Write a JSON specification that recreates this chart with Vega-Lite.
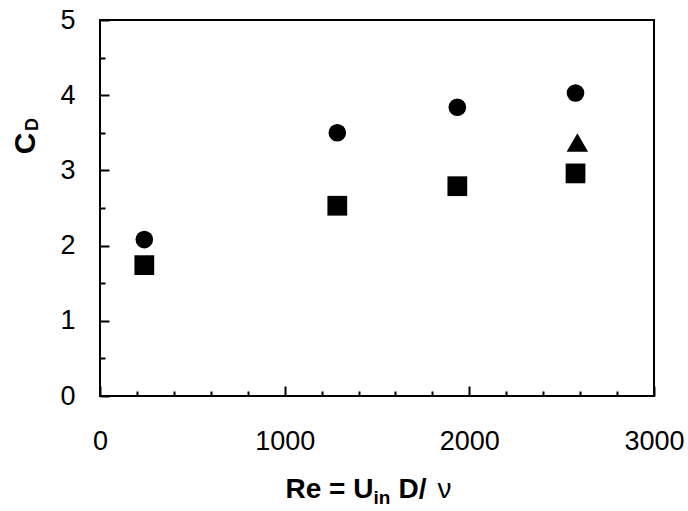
{
  "$schema": "https://vega.github.io/schema/vega-lite/v6.json",
  "width": 554,
  "height": 376,
  "autosize": "none",
  "padding": {"left": 100, "top": 20, "right": 34, "bottom": 115},
  "background": "white",
  "config": {"view": {"stroke": "black", "strokeWidth": 2}, "font": "Liberation Sans"},
  "data": {"values": [
    {"series": "circle", "Re": 240, "CD": 2.08},
    {"series": "circle", "Re": 1285, "CD": 3.5},
    {"series": "circle", "Re": 1935, "CD": 3.84},
    {"series": "circle", "Re": 2575, "CD": 4.03},
    {"series": "square", "Re": 240, "CD": 1.74},
    {"series": "square", "Re": 1285, "CD": 2.53},
    {"series": "square", "Re": 1935, "CD": 2.79},
    {"series": "square", "Re": 2575, "CD": 2.96},
    {"series": "triangle", "Re": 2585, "CD": 3.37}
  ]},
  "layer": [
    {
      "transform": [{"filter": "datum.series === 'circle'"}],
      "mark": {"type": "point", "shape": "circle", "filled": true, "color": "black", "opacity": 1, "size": 310},
      "encoding": {
        "x": {"field": "Re", "type": "quantitative", "scale": {"domain": [0, 3000], "nice": false, "zero": false},
          "axis": {"orient": "bottom", "values": [0, 1000, 2000, 3000], "offset": -10,
            "format": "d", "domain": false, "grid": false, "tickColor": "black", "tickWidth": 2, "tickSize": 10,
            "labelFontSize": 27, "labelColor": "black", "labelPadding": 32, "labelFlush": false, "labelOverlap": false,
            "title": "Re = U", "titleFontSize": 28, "titleFontWeight": "bold", "titleColor": "black",
            "titleX": 185, "titleY": 111, "titleAlign": "left", "titleBaseline": "alphabetic", "titleAngle": 0}},
        "y": {"field": "CD", "type": "quantitative", "scale": {"domain": [0, 5], "nice": false, "zero": false},
          "axis": {"orient": "left", "values": [0, 1, 2, 3, 4, 5], "offset": -9,
            "format": "d", "domain": false, "grid": false, "tickColor": "black", "tickWidth": 2, "tickSize": 9,
            "labelFontSize": 27, "labelColor": "black", "labelPadding": 25, "labelFlush": false, "labelOverlap": false,
            "title": "C", "titleFontSize": 30, "titleFontWeight": "bold", "titleColor": "black",
            "titleX": -84, "titleY": 123, "titleAlign": "center", "titleBaseline": "middle", "titleAngle": -90}}
      }
    },
    {
      "transform": [{"filter": "datum.series === 'square'"}],
      "mark": {"type": "point", "shape": "square", "filled": true, "color": "black", "opacity": 1, "size": 390},
      "encoding": {
        "x": {"field": "Re", "type": "quantitative", "scale": {"domain": [0, 3000], "nice": false, "zero": false},
          "axis": {"orient": "bottom", "values": [200, 400, 600, 800, 1200, 1400, 1600, 1800, 2200, 2400, 2600, 2800], "offset": -5,
            "domain": false, "grid": false, "tickColor": "black", "tickWidth": 2, "tickSize": 5, "labels": false,
            "title": "in", "titleFontSize": 19, "titleFontWeight": "bold", "titleColor": "black",
            "titleX": 273, "titleY": 112, "titleAlign": "left", "titleBaseline": "alphabetic", "titleAngle": 0}},
        "y": {"field": "CD", "type": "quantitative", "scale": {"domain": [0, 5], "nice": false, "zero": false},
          "axis": {"orient": "left", "values": [0.5, 1.5, 2.5, 3.5, 4.5], "offset": -5,
            "domain": false, "grid": false, "tickColor": "black", "tickWidth": 2, "tickSize": 5, "labels": false,
            "title": "D", "titleFontSize": 18, "titleFontWeight": "bold", "titleColor": "black",
            "titleX": -73, "titleY": 104, "titleAlign": "center", "titleBaseline": "middle", "titleAngle": -90}}
      }
    },
    {
      "transform": [{"filter": "datum.series === 'triangle'"}],
      "mark": {"type": "point", "shape": "triangle-up", "filled": true, "color": "black", "opacity": 1, "size": 460},
      "encoding": {
        "x": {"field": "Re", "type": "quantitative", "scale": {"domain": [0, 3000], "nice": false, "zero": false},
          "axis": {"orient": "bottom", "domain": false, "grid": false, "ticks": false, "labels": false,
            "title": "D/", "titleFontSize": 28, "titleFontWeight": "bold", "titleColor": "black",
            "titleX": 298, "titleY": 101, "titleAlign": "left", "titleBaseline": "alphabetic", "titleAngle": 0}},
        "y": {"field": "CD", "type": "quantitative", "scale": {"domain": [0, 5], "nice": false, "zero": false},
          "axis": {"orient": "left", "domain": false, "grid": false, "ticks": false, "labels": false,
            "title": "ν", "titleFontSize": 28, "titleFontWeight": "normal", "titleColor": "black",
            "titleX": 337, "titleY": 477, "titleAlign": "left", "titleBaseline": "alphabetic", "titleAngle": 0}}
      }
    }
  ],
  "resolve": {"scale": {"x": "independent", "y": "independent"}}
}
